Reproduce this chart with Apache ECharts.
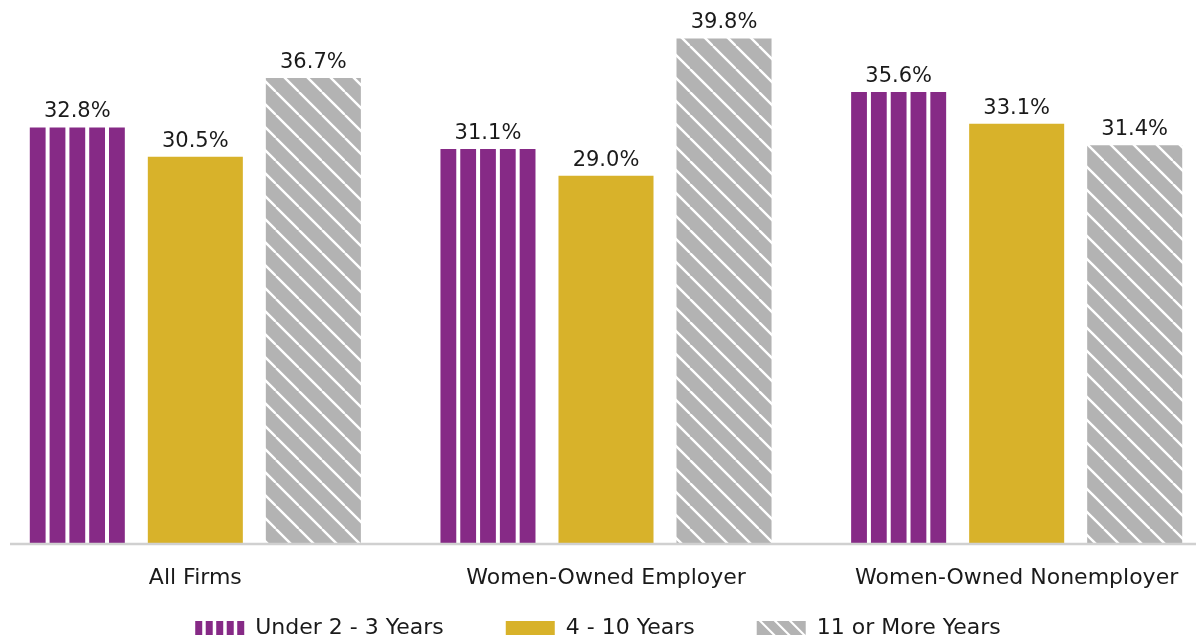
<!DOCTYPE html>
<html>
<head>
<meta charset="utf-8">
<script src="https://cdn.jsdelivr.net/npm/echarts@6/dist/echarts.min.js"></script>
<style>
  html, body { margin: 0; padding: 0; background: #ffffff; }
  #chart { width: 1196px; height: 640px; }
</style>
</head>
<body>
<div id="chart"></div>
<script>
// Share of firms by years in business
const categories = ['All Firms', 'Women-Owned Employer', 'Women-Owned Nonemployer'];
const seriesNames = ['Under 2 - 3 Years', '4 - 10 Years', '11 or More Years'];
const under2to3 = [32.8, 31.1, 35.6];
const fourTo10 = [30.5, 29.0, 33.1];
const elevenPlus = [36.7, 39.8, 31.4];

const PURPLE = '#862a86';
const GOLD = '#d8b22a';
const GREY = '#b3b3b3';
const TEXT = '#1a1a1a';
const FONT = '"DejaVu Sans", sans-serif';

// bar width and gap as fractions of one category band
const BAR_FRAC = 0.2314;
const GAP_FRAC = 0.056;

// grey tile with white diagonal lines
function makeHatch() {
  const s = 23;
  const c = document.createElement('canvas');
  c.width = s; c.height = s;
  const g = c.getContext('2d');
  g.fillStyle = GREY;
  g.fillRect(0, 0, s, s);
  g.strokeStyle = '#ffffff';
  g.lineWidth = 2.4;
  for (const d of [-s, 0, s]) {
    g.beginPath();
    g.moveTo(d, 0);
    g.lineTo(d + s, s);
    g.stroke();
  }
  return c;
}
const hatch = { image: makeHatch(), repeat: 'repeat' };

function toData(values) {
  return values.map((v, i) => [i, v]);
}

function barRenderer(slot, kind) {
  return function (params, api) {
    const idx = api.value(0);
    const val = api.value(1);
    const band = api.size([1, 0])[0];
    const barW = band * BAR_FRAC;
    const gap = band * GAP_FRAC;
    const base = api.coord([idx, 0]);
    const top = api.coord([idx, val]);
    const cx = base[0] + (slot - 1) * (barW + gap);
    const x0 = cx - barW / 2;
    const h = base[1] - top[1];
    const children = [];
    if (kind === 'stripes') {
      const n = 5, sep = 4;
      const w = (barW - sep * (n - 1)) / n;
      for (let k = 0; k < n; k++) {
        children.push({
          type: 'rect',
          shape: { x: x0 + k * (w + sep), y: top[1], width: w, height: h },
          style: { fill: PURPLE }
        });
      }
    } else {
      children.push({
        type: 'rect',
        shape: { x: x0, y: top[1], width: barW, height: h },
        style: { fill: kind === 'hatch' ? hatch : GOLD }
      });
    }
    children.push({
      type: 'text',
      style: {
        x: cx, y: top[1] - 5,
        text: val.toFixed(1) + '%',
        align: 'center', verticalAlign: 'bottom',
        font: '21px ' + FONT,
        fill: TEXT
      }
    });
    return { type: 'group', children };
  };
}

const chart = echarts.init(document.getElementById('chart'), null, { renderer: 'canvas' });

chart.setOption({
  animation: false,
  backgroundColor: '#ffffff',
  grid: {
    left: -10, right: -26, top: 36, bottom: 96,
    containLabel: false,
    outerBoundsMode: 'none'
  },
  xAxis: {
    type: 'category',
    data: categories,
    axisLine: { show: false },
    axisTick: { show: false },
    axisLabel: { color: TEXT, fontSize: 22, fontFamily: FONT, margin: 23, interval: 0 }
  },
  yAxis: {
    type: 'value', min: 0, max: 40,
    show: false
  },
  legend: {
    top: 612,
    left: 'center',
    itemWidth: 49,
    itemHeight: 14,
    itemGap: 62,
    textStyle: { color: TEXT, fontSize: 22, fontFamily: FONT, padding: [0, 0, 0, 6] },
    data: [
      { name: seriesNames[0], icon: 'path://M0,0h7v14h-7z M10.5,0h7v14h-7z M21,0h7v14h-7z M31.5,0h7v14h-7z M42,0h7v14h-7z' },
      { name: seriesNames[1], icon: 'rect' },
      { name: seriesNames[2], icon: 'path://M0,0h2l14,14h-16z M5,0h12l14,14h-12z M20,0h12l14,14h-12z M35,0h14v14z' }
    ]
  },
  graphic: [{
    type: 'line',
    shape: { x1: 10, y1: 544, x2: 1196, y2: 544 },
    style: { stroke: '#d0d0d0', lineWidth: 2.5 },
    z: 10
  }],
  series: [
    {
      name: seriesNames[0], type: 'custom',
      itemStyle: { color: PURPLE },
      encode: { x: 0, y: 1 },
      renderItem: barRenderer(0, 'stripes'),
      data: toData(under2to3)
    },
    {
      name: seriesNames[1], type: 'custom',
      itemStyle: { color: GOLD },
      encode: { x: 0, y: 1 },
      renderItem: barRenderer(1, 'solid'),
      data: toData(fourTo10)
    },
    {
      name: seriesNames[2], type: 'custom',
      itemStyle: { color: GREY },
      encode: { x: 0, y: 1 },
      renderItem: barRenderer(2, 'hatch'),
      data: toData(elevenPlus)
    }
  ]
});
</script>
</body>
</html>
